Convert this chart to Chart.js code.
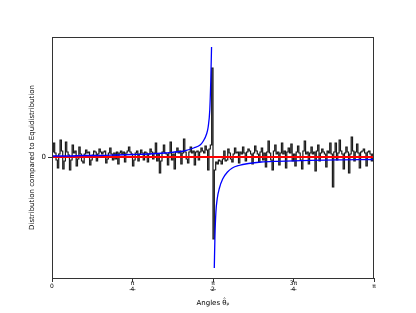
<!DOCTYPE html>
<html>
<head>
<meta charset="utf-8">
<script src="https://cdn.jsdelivr.net/npm/chart.js@4/dist/chart.umd.min.js"></script>
<style>
  html, body { margin: 0; padding: 0; background: #fff; }
</style>
</head>
<body>
<canvas id="grafica" width="416" height="313"></canvas>
<script>
// Diferencia por bin (240 bins de 0 a π), leída a ojo del histograma
const histVals = [
   5,  14,   4,  -3, -11,   3,  17,   6, -12,  -4,
  15,   5,   2, -13,  -3,  12,   4,   6,  -9,  -2,
  10,   3,  -4,  -6,   3,   7,   4,   5,  -8,  -3,
   2,   6,   5,  -4,   3,   8,   5,   3,   5,   6,
  -6,  -2,   4,   9,   3,  -3,   4,  -2,   5,  -7,
   4,   6,   3,   5,  -5,   4,   6,  10,   5,   3,
  -9,  -3,   4,   6,  -4,   3,   7,   4,  -3,   5,
   4,  -5,   3,   8,   5,  -2,   4,  14,  -4,   3,
 -16,  -4,   5,  12,   4,   3,  -8,   4,  15,  -3,
   3, -12,   5,   9,   4,   6,  -7,   4,  18,   5,
  -2,  -6,   5,  10,   4,   6,  -8,   5,   6,  -3,
   5,   9,   6,   4,  11,   7, -13,   8,  12,  89,
 -82, -13,  -5,  -7,  -3,  -4,  -7,  -2,   6,  -4,
  -3,   8,   4,  -2,  -5,   3,   9,   4,   5,  -6,
   5,   3,  10,   4,  -4,   5,   8,   6,   3,  -7,
   4,  11,   6,   3,  -5,   5,   9,  -3,   4, -10,
   5,  16,   4,  -3, -13,   6,  12,   3,   5,  -8,
   4,  14,   3,   6, -11,   5,   9,   4,  13,  -4,
   3,  -9,   5,  11,   4,  -3, -12,   6,  16,   3,
   5,  -7,   4,  10,   3,   5, -14,   6,  12,  -4,
   4,   8,   5,   3, -10,   6,   4,  14,   3, -30,
   5,  14,  -3,   4,  17,   6,   3, -12,   4,  10,
   5, -16,   3,  20,   6,  -4,   5,  13,   4, -11,
   5,   6,   8,   4,  -9,   5,   6,   3,  -4,   3
];

// Curva azul (x en fracciones de π); null corta la curva en π/2
const curveX = [0, 0.05, 0.1, 0.15, 0.2, 0.25, 0.3, 0.35, 0.38, 0.41, 0.44, 0.46, 0.47, 0.48, 0.485, 0.49, 0.493, 0.4955,
                0.5,
                0.504, 0.506, 0.509, 0.513, 0.52, 0.53, 0.545, 0.56, 0.58, 0.61, 0.65, 0.7, 0.75, 0.8, 0.85, 0.9, 0.95, 1];
const curveY = [1, 1, 1.5, 1.5, 2, 2.5, 3, 4, 5, 6, 9, 12, 16, 23, 30, 47, 75, 110,
                null,
                -111, -80, -55, -42, -31, -22, -15, -11, -8.5, -6.5, -5, -4.3, -3.8, -3.4, -3.1, -2.9, -2.7, -2.5];

const xTicks = [0, 0.25, 0.5, 0.75, 1];
const xTickLabels = ['0', ['π', '4'], ['π', '2'], ['3π', '4'], 'π'];

const nBins = histVals.length;
const histData = histVals.map((v, i) => ({ x: i / nBins, y: v }));
histData.push({ x: 1, y: histVals[nBins - 1] });

const curveData = curveX.map((x, i) => ({ x: x, y: curveY[i] }));

const fuente = 'DejaVu Sans';

// Marco completo y barras de fracción en las etiquetas
const marco = {
    id: 'marco',
    afterDraw(chart) {
        const { ctx, chartArea: a } = chart;
        ctx.save();
        ctx.strokeStyle = '#333';
        ctx.lineWidth = 1;
        ctx.strokeRect(a.left + 0.5, a.top + 0.5, a.right - a.left - 1, a.bottom - a.top);
        const sx = chart.scales.x;
        ctx.lineWidth = 0.6;
        xTicks.forEach((v, i) => {
            if (Array.isArray(xTickLabels[i])) {
                const px = sx.getPixelForValue(v);
                const y = a.bottom + 4 + 1 + 6.6;
                ctx.beginPath();
                ctx.moveTo(px - 3, y);
                ctx.lineTo(px + 3, y);
                ctx.stroke();
            }
        });
        ctx.restore();
    }
};

new Chart(document.getElementById('grafica').getContext('2d'), {
    type: 'line',
    data: {
        datasets: [
            {
                data: curveData,
                borderColor: '#0000ff',
                borderWidth: 1.3,
                pointRadius: 0,
                cubicInterpolationMode: 'monotone',
                spanGaps: false
            },
            {
                data: [{ x: 0, y: 0 }, { x: 1, y: 0 }],
                borderColor: '#ff0000',
                borderWidth: 2,
                pointRadius: 0
            },
            {
                data: histData,
                borderColor: '#1a1a1a',
                borderWidth: 1.2,
                pointRadius: 0,
                stepped: 'before'
            }
        ]
    },
    options: {
        responsive: false,
        animation: false,
        events: [],
        layout: { padding: { left: 0, right: 42, top: 37, bottom: 0 } },
        plugins: {
            legend: { display: false },
            tooltip: { enabled: false }
        },
        scales: {
            x: {
                type: 'linear',
                min: 0,
                max: 1,
                border: { display: false },
                grid: { drawOnChartArea: false, drawTicks: true, tickLength: 4, color: '#333' },
                afterBuildTicks: axis => { axis.ticks = xTicks.map(v => ({ value: v })); },
                afterFit: axis => { axis.height = 35; },
                ticks: {
                    padding: 1,
                    crossAlign: 'center',
                    maxRotation: 0,
                    color: '#000',
                    font: { family: fuente, size: 6, lineHeight: 1.1 },
                    callback: (value, index) => xTickLabels[index]
                },
                title: {
                    display: true,
                    text: 'Angles θ̂ₚ',
                    color: '#000',
                    font: { family: fuente, size: 7 },
                    padding: { top: 0, bottom: 6 }
                }
            },
            y: {
                min: -121,
                max: 120,
                border: { display: false },
                grid: { drawOnChartArea: false, drawTicks: true, tickLength: 4, color: '#333' },
                afterBuildTicks: axis => { axis.ticks = [{ value: 0 }]; },
                afterFit: axis => { axis.width = 52; },
                ticks: {
                    padding: 2,
                    color: '#000',
                    font: { family: fuente, size: 7 },
                    callback: () => '0'
                },
                title: {
                    display: true,
                    text: 'Distribution compared to Equidistribution',
                    color: '#000',
                    font: { family: fuente, size: 7 },
                    padding: { top: 28, bottom: 0 }
                }
            }
        }
    },
    plugins: [marco]
});
</script>
</body>
</html>
